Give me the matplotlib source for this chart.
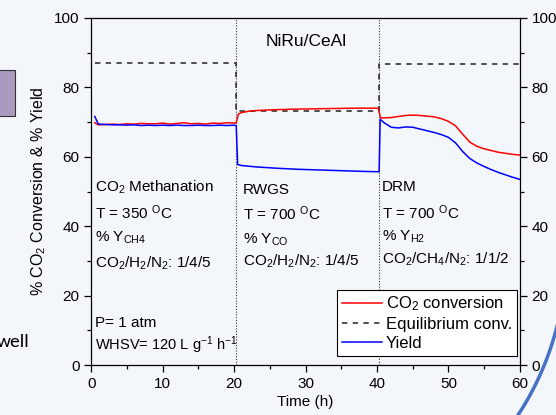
"""
Plot NiRu/CeAl stability test: CO2 conversion, equilibrium conversion and yield
over three consecutive reactions (CO2 methanation, RWGS, DRM).

Output:
- out.png
"""

import numpy as np
import matplotlib.pyplot as plt
from matplotlib.ticker import MultipleLocator


OUTPUT_PATH = "out.png"

# CO2 conversion (%) vs time (h)
conv_time = [0.5, 1.0, 2, 3, 4, 5, 6, 7, 8, 9, 10, 11, 12, 13, 14, 15, 16, 17, 18, 19, 20.0,
             20.3, 20.6, 21, 22, 23, 25, 28, 31, 34, 37, 40.0, 40.2,
             40.5, 41, 42, 43, 44, 45, 46, 47, 48, 49, 50, 51, 52, 53, 54, 55, 56, 57, 58, 59, 60]
conv_values = [69.8, 69.2, 69.3, 69.4, 69.3, 69.5, 69.4, 69.6, 69.5, 69.5, 69.7, 69.4, 69.6, 69.8,
               69.5, 69.6, 69.4, 69.7, 69.6, 69.8, 69.7,
               69.8, 72.3, 72.7, 73.1, 73.3, 73.5, 73.7, 73.8, 73.9, 74.0, 74.0, 73.9,
               71.2, 71.2, 71.3, 71.6, 71.9, 72.0, 71.9, 71.7, 71.5, 71.0, 70.2, 68.9, 66.5,
               64.2, 63.0, 62.3, 61.8, 61.3, 61.0, 60.7, 60.5]

# Product yield (%) vs time (h)
yield_time = [0.5, 1.0, 2, 3, 4, 5, 6, 7, 8, 9, 10, 11, 12, 13, 14, 15, 16, 17, 18, 19, 20.0,
              20.3, 20.5, 21, 23, 26, 29, 32, 35, 38, 40.0, 40.3,
              40.45, 41, 42, 43, 44, 45, 46, 47, 48, 49, 50, 51, 52, 53, 54, 55, 56, 57, 58, 59, 60]
yield_values = [71.6, 69.4, 69.3, 69.2, 69.2, 69.1, 69.2, 69.0, 69.1, 69.0, 69.1, 69.0, 69.1, 69.0,
                69.0, 69.1, 69.0, 69.0, 69.1, 69.0, 69.1,
                69.0, 57.8, 57.5, 57.1, 56.7, 56.4, 56.2, 56.0, 55.8, 55.7, 55.7,
                70.8, 69.8, 68.5, 68.3, 68.6, 68.5, 68.0, 67.5, 67.0, 66.4, 65.6, 64.0, 61.5,
                59.5, 58.2, 57.2, 56.3, 55.5, 54.8, 54.1, 53.5]

# Thermodynamic equilibrium conversion (%)
eq_time = [0.5, 20.2, 20.2, 40.3, 40.3, 60]
eq_values = [87.1, 87.1, 73.3, 73.3, 86.7, 86.7]

# Reaction switch times (h)
switch_times = [20.2, 40.3]

BG = "#f3f7fc"


def main():
    plt.rcParams["font.family"] = ["Liberation Sans", "DejaVu Sans"]
    plt.rcParams["mathtext.fontset"] = "custom"
    plt.rcParams["mathtext.rm"] = "Liberation Sans"
    plt.rcParams["mathtext.it"] = "Liberation Sans:italic"
    plt.rcParams["mathtext.bf"] = "Liberation Sans:bold"

    fig = plt.figure(figsize=(5.56, 4.15), dpi=100, facecolor=BG)
    ax = fig.add_axes([0.164, 0.120, 0.771, 0.837], facecolor=BG)

    # Reaction boundaries
    for t in switch_times:
        ax.axvline(t, color="#333333", linestyle=(0, (1, 1.5)), linewidth=0.8, zorder=1)

    ax.plot(conv_time, conv_values, color="red", linewidth=1.1,
            label="CO$_2$ conversion", zorder=3)
    ax.plot(eq_time, eq_values, color="#222222", linewidth=1.1, linestyle=(0, (3.5, 3.5)),
            label="Equilibrium conv.", zorder=2)
    ax.plot(yield_time, yield_values, color="blue", linewidth=1.1, label="Yield", zorder=3)

    ax.set_xlim(0, 60)
    ax.set_ylim(0, 100)
    ax.xaxis.set_major_locator(MultipleLocator(10))
    ax.xaxis.set_minor_locator(MultipleLocator(5))
    ax.yaxis.set_major_locator(MultipleLocator(20))
    ax.yaxis.set_minor_locator(MultipleLocator(10))
    ax.tick_params(which="both", direction="out", right=True, labelright=True,
                   labelsize=11, width=0.9)
    ax.tick_params(which="major", length=5)
    ax.tick_params(which="minor", length=3)
    for spine in ax.spines.values():
        spine.set_linewidth(0.9)

    ax.set_xlabel("Time (h)", fontsize=11, labelpad=3)
    ax.set_ylabel("% CO$_2$ Conversion & % Yield", fontsize=11.5, labelpad=4)

    ax.text(30.1, 93.1, "NiRu/CeAl", fontsize=12.5, ha="center", va="center")

    fs = 11
    ax.text(0.5, 51.3, "CO$_2$ Methanation", fontsize=fs, va="center")
    ax.text(0.5, 43.8, "T = 350 $^{\\mathrm{O}}$C", fontsize=fs, va="center")
    ax.text(0.5, 36.6, "% Y$_{\\mathrm{CH4}}$", fontsize=fs, va="center")
    ax.text(0.5, 29.4, "CO$_2$/H$_2$/N$_2$: 1/4/5", fontsize=fs, va="center")
    ax.text(0.5, 12.1, "P= 1 atm", fontsize=fs, va="center")
    ax.text(0.5, 5.8, "WHSV= 120 L g$^{-1}$ h$^{-1}$", fontsize=10.5, va="center")

    ax.text(21.2, 50.4, "RWGS", fontsize=fs, va="center")
    ax.text(21.2, 43.5, "T = 700 $^{\\mathrm{O}}$C", fontsize=fs, va="center")
    ax.text(21.2, 36.0, "% Y$_{\\mathrm{CO}}$", fontsize=fs, va="center")
    ax.text(21.2, 29.9, "CO$_2$/H$_2$/N$_2$: 1/4/5", fontsize=fs, va="center")

    ax.text(40.7, 51.3, "DRM", fontsize=fs, va="center")
    ax.text(40.7, 43.8, "T = 700 $^{\\mathrm{O}}$C", fontsize=fs, va="center")
    ax.text(40.7, 36.9, "% Y$_{\\mathrm{H2}}$", fontsize=fs, va="center")
    ax.text(40.7, 30.4, "CO$_2$/CH$_4$/N$_2$: 1/1/2", fontsize=fs, va="center")

    leg = ax.legend(loc="lower right", bbox_to_anchor=(0.993, 0.027), borderaxespad=0,
                    fontsize=12, fancybox=False, frameon=True, handlelength=2.4,
                    handletextpad=0.2, labelspacing=0.22, borderpad=0.3)
    leg.get_frame().set_edgecolor("black")
    leg.get_frame().set_linewidth(0.8)
    leg.get_frame().set_facecolor("white")
    leg.get_frame().set_alpha(1)

    # Slide decorations around the chart
    fig.patches.append(plt.Rectangle((-0.01, 0.72), 0.037, 0.112, transform=fig.transFigure,
                                     facecolor="#a99bbf", edgecolor="#333333", linewidth=0.8))
    fig.text(-0.006, 0.175, "well", fontsize=14, ha="left", va="center",
             family=["Carlito", "Liberation Sans", "DejaVu Sans"])
    theta = np.linspace(0.15, 0.75, 100)
    cx, cy, r = 275.7, 255.7, 290.0
    arc_x = (cx + r * np.cos(theta)) / 556
    arc_y = 1 - (cy + r * np.sin(theta)) / 415
    fig.add_artist(plt.Line2D(arc_x, arc_y, transform=fig.transFigure, color="#4472c4",
                              linewidth=2.5))

    fig.savefig(OUTPUT_PATH, dpi=100, facecolor=BG)
    plt.close(fig)


if __name__ == "__main__":
    main()
